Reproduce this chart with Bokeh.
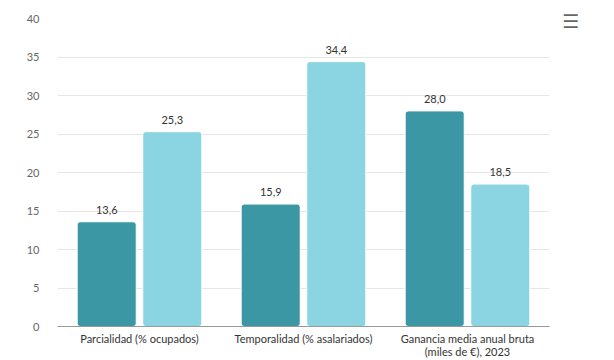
from bokeh.plotting import figure
from bokeh.models import ColumnDataSource, Range1d, FactorRange, Div, SingleIntervalTicker
from bokeh.layouts import row
from bokeh.transform import dodge
from bokeh.core.properties import value
from bokeh.embed import file_html
from bokeh.resources import INLINE

categories = ["Parcialidad (% ocupados)", "Temporalidad (% asalariados)",
              "Ganancia media anual bruta\n(miles de €), 2023"]
series_a = [13.6, 15.9, 28.0]
series_b = [25.3, 34.4, 18.5]
labels_a = ["13,6", "15,9", "28,0"]
labels_b = ["25,3", "34,4", "18,5"]

FONT = "Lato"
DARK = "#3b97a4"
LIGHT = "#8bd4e2"

src = ColumnDataSource(dict(cat=categories, a=series_a, b=series_b, la=labels_a, lb=labels_b))

p = figure(width=560, height=360, x_range=FactorRange(factors=categories, range_padding=0),
           y_range=Range1d(0, 40), output_backend="svg", toolbar_location=None,
           min_border_left=57, min_border_right=11, min_border_top=18, min_border_bottom=34)
p.outline_line_color = None

p.vbar(x=dodge("cat", -0.2, range=p.x_range), top="a", width=0.36, source=src,
       fill_color=DARK, line_color="white", line_width=1, border_radius=3)
p.vbar(x=dodge("cat", 0.2, range=p.x_range), top="b", width=0.36, source=src,
       fill_color=LIGHT, line_color="white", line_width=1, border_radius=3)

p.text(x=dodge("cat", -0.2, range=p.x_range), y="a", text="la", source=src,
       text_align="center", text_baseline="bottom", y_offset=-8,
       text_font=value(FONT), text_font_size="11px", text_color="#333333")
p.text(x=dodge("cat", 0.2, range=p.x_range), y="b", text="lb", source=src,
       text_align="center", text_baseline="bottom", y_offset=-8,
       text_font=value(FONT), text_font_size="11px", text_color="#333333")

p.yaxis.ticker = SingleIntervalTicker(interval=5)
p.yaxis.axis_line_color = None
p.yaxis.major_tick_line_color = None
p.yaxis.minor_tick_line_color = None
p.yaxis.major_label_text_font = FONT
p.yaxis.major_label_text_font_size = "11px"
p.yaxis.major_label_text_color = "#666666"
p.yaxis.major_label_standoff = 12

p.xaxis.axis_line_color = "#999999"
p.xaxis.major_tick_line_color = None
p.xaxis.minor_tick_line_color = None
p.xaxis.major_tick_out = 0
p.xaxis.major_label_text_font = FONT
p.xaxis.major_label_text_font_size = "11px"
p.xaxis.major_label_text_color = "#333333"
p.xaxis.major_label_text_line_height = 1.0
p.xaxis.major_label_standoff = 5

p.xgrid.grid_line_color = None
p.ygrid.grid_line_color = "#e6e6e6"

menu = Div(text="&#9776;", width=40, height=40,
           styles={"font-family": "DejaVu Sans", "font-size": "19px", "font-weight": "bold",
                   "color": "#666666", "margin-top": "8px", "margin-left": "2px"})

layout = row(p, menu, spacing=0)

open("out.html", "w").write(file_html(layout, INLINE))
